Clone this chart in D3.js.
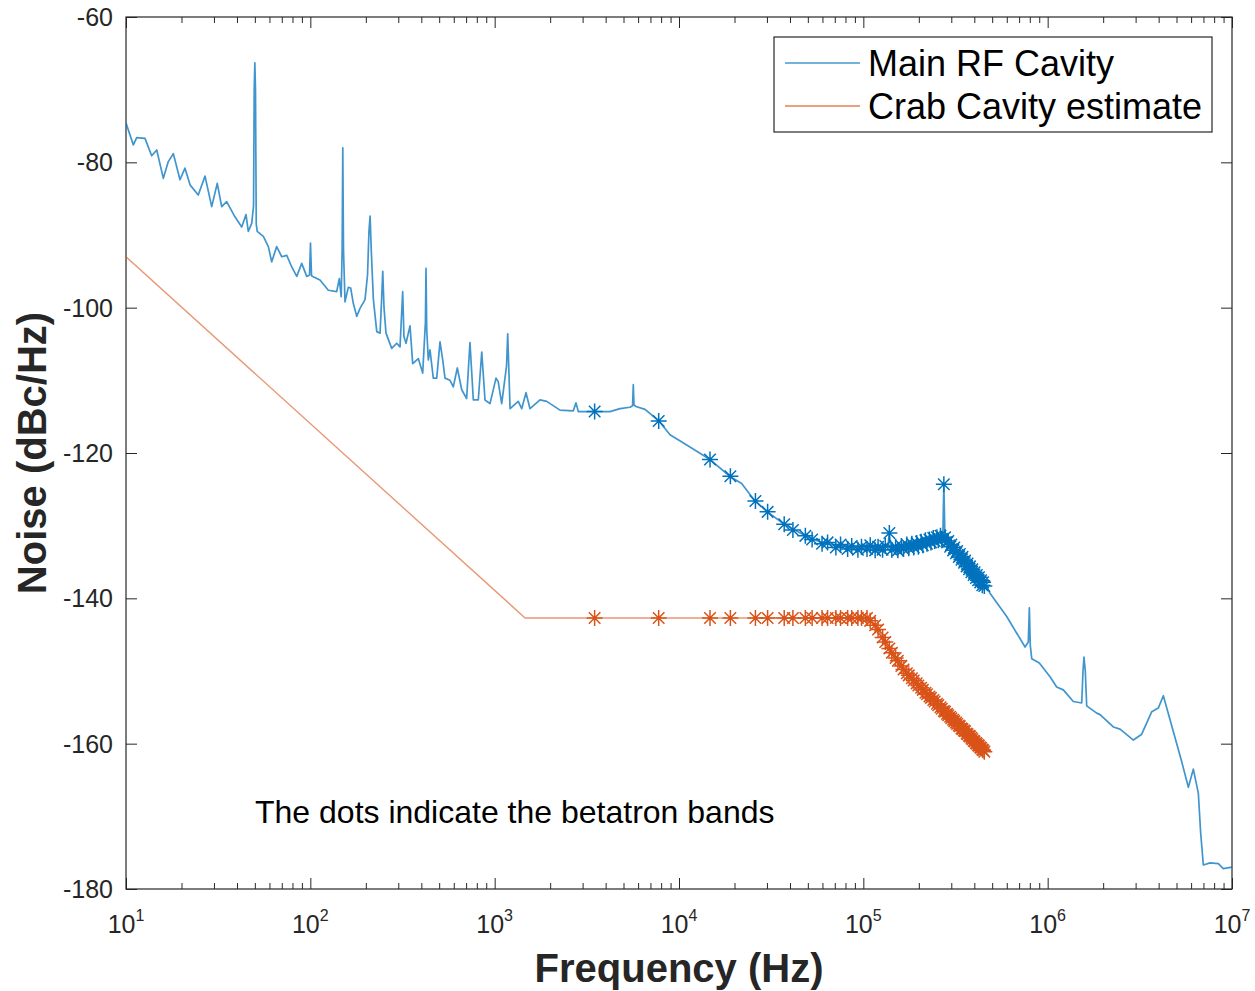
<!DOCTYPE html>
<html>
<head>
<meta charset="utf-8">
<script src="https://cdn.jsdelivr.net/npm/d3@7"></script>
<style>
  body { margin: 0; background: #fff; }
  text { font-family: "Liberation Sans", Arial, Helvetica, sans-serif; fill: #262626; }
</style>
</head>
<body>
<svg id="chart" width="1255" height="991"></svg>
<script>
// Measured phase-noise spectrum of the main RF cavity: [frequency Hz, dBc/Hz]
const mainRF = [
  [10,-74.6],[10.96,-77.6],[11.43,-76.6],[12.68,-76.7],[13.78,-79.1],[14.68,-78.3],[15.94,-82.2],
  [16.96,-79.9],[18.06,-78.8],[19.63,-82.4],[20.89,-80.8],[22.25,-83.1],[24.66,-84.5],[26.83,-81.9],
  [29.17,-86.1],[31.27,-82.9],[33.04,-86.1],[35.16,-85.4],[38.99,-87.5],[42.44,-88.9],[44.77,-87.2],
  [46.08,-89.5],[48.08,-88.4],[49.2,-86],[49.6,-70],[50.0,-66.3],[50.4,-70],[50.9,-88.5],[51.5,-89.5],
  [55.6,-90.2],[59.2,-91.6],[61.7,-93.7],[65.7,-91.6],[70.0,-93.0],[74.5,-92.8],[79.3,-94.4],
  [84.4,-95.7],[89.8,-93.9],[95.6,-95.7],[99.0,-95.5],[100.2,-91.1],[101.5,-95.6],[103,-95.7],
  [112.8,-96.2],[125.2,-97.6],[139,-97.8],[143.6,-96.0],[147,-98.5],[148.8,-92],[150,-78.0],
  [151.3,-92],[154.2,-99.2],[160.7,-97.2],[165.6,-97.3],[171,-99.4],[178.5,-101.2],[186,-100.1],
  [198,-98.9],[204.3,-95.5],[208,-89.5],[211,-87.4],[214,-92],[219.8,-98.9],[229.3,-103.3],
  [238.9,-103.5],[243.5,-99],[247.1,-95.0],[251,-100],[257.3,-103.5],[276.3,-105.6],[294.2,-104.9],
  [306.6,-105.4],[317,-97.8],[322,-104],[330.4,-104.9],[347.3,-102.5],[359.2,-107.7],[385.2,-107.0],
  [407,-109.0],[421,-102],[424.1,-94.6],[428,-103],[436.5,-107.2],[445.8,-105.8],[464.6,-109.7],
  [484.9,-109.7],[505.3,-104.7],[522.5,-107.2],[537.8,-109.7],[572.4,-110.0],[596.5,-110.9],
  [627.1,-108.3],[662.6,-111.3],[704.7,-112.5],[734.5,-104.8],[766,-112.7],[815,-112.7],[851,-106.1],
  [886.5,-112.7],[943.4,-113.2],[1017,-109.7],[1046,-110.2],[1092,-113.2],[1160,-108],[1177,-103.6],
  [1195,-109],[1212,-113.9],[1343,-112.9],[1402,-113.9],[1479,-111.7],[1555,-113.9],[1762,-112.7],
  [1915,-112.9],[2262,-114.1],[2671,-114.2],[2761,-113.1],[2843,-114.3],[3459,-114.3],[4224,-114.3],
  [4786,-113.9],[5421,-113.7],[5600,-113.5],[5650,-110.6],[5700,-113.4],[5843,-113.6],[6540,-114.0],
  [7790,-115.6],[8935,-117.5],[11010,-118.9],[14730,-120.9],[19090,-123.3],[21880,-124.2],
  [25620,-126.5],[30130,-128.1],[36800,-129.7],[41690,-130.5],[49320,-131.5],[60700,-132.4],
  [75000,-132.8],[95940,-132.9],[120000,-133.0],[136000,-132.9],[138400,-131.0],[140500,-133.0],
  [160000,-133.0],[180000,-132.8],[200000,-132.6],[230000,-132.3],[255000,-131.9],[270000,-131.6],
  [272500,-126],[273400,-124.3],[274300,-126],[277000,-131.6],[283000,-132.0],[330000,-134.0],
  [400000,-136.5],[446000,-137.9],[466700,-138.4],[486500,-139.3],[599500,-142.5],[754000,-146.7],
  [785000,-146],[795500,-141.3],[805000,-146.5],[819600,-148.3],[900800,-148.9],[1030000,-150.8],
  [1119000,-152.2],[1216000,-152.6],[1377000,-154.2],[1530000,-154.4],[1555000,-150],[1574000,-148.1],
  [1600000,-150],[1628000,-154.8],[1846000,-155.8],[1924000,-156.0],[2271000,-157.7],[2470000,-158.0],
  [2917000,-159.5],[3238000,-158.7],[3670000,-155.6],[3982000,-155.1],[4242000,-153.4],[4612000,-156.7],
  [5337000,-162.5],[5797000,-166.0],[6169000,-163.5],[6566000,-166.8],[6762000,-172.3],[6990000,-176.7],
  [7600000,-176.4],[8430000,-176.5],[8970000,-177.2],[10000000,-177.0]
];

// Estimated crab-cavity noise floor: [frequency Hz, dBc/Hz]
const crabCavity = [
  [10,-93.0],[1462,-142.7],[104700,-142.7],[114800,-143.5],[125900,-145.2],[141300,-147.3],
  [173800,-150.4],[213800,-152.8],[263000,-155.0],[323600,-157.3],[398100,-159.6],[457100,-161.2]
];

// Betatron sideband frequencies (kHz)
const betatronKHz = [
  3.486,7.759,14.73,19.00,25.98,30.25,37.22,41.49,48.47,52.74,59.71,63.98,70.96,75.23,82.20,86.47,
  93.45,97.72,104.7,109.0,115.9,120.2,127.2,131.5,138.4,142.7,149.7,153.9,160.9,165.2,172.2,176.4,
  183.4,187.7,194.7,198.9,205.9,210.2,217.1,221.4,228.4,232.7,239.6,243.9,250.9,255.1,262.1,266.4,
  273.4,277.6,284.6,288.9,295.9,300.1,307.1,311.4,318.3,322.6,329.6,333.9,340.8,345.1,352.1,356.4,
  363.3,367.6,374.6,378.8,385.8,390.1,397.1,401.3,408.3,412.6,419.6,423.8,430.8,435.1,442.0,446.3,
  453.3
];

// Main RF cavity noise at each betatron band (dBc/Hz)
const mainBetatronDb = [
  -114.3,-115.6,-120.9,-123.2,-126.6,-128.1,-129.8,-130.6,-131.4,-131.9,-132.5,-132.3,-133.0,-132.6,
  -133.2,-132.8,-133.3,-132.9,-133.2,-132.7,-133.4,-132.9,-133.3,-132.8,-131.0,-133.3,-132.9,-133.4,
  -132.8,-133.2,-132.6,-133.1,-132.5,-133.0,-132.4,-132.9,-132.2,-132.7,-132.0,-132.5,-131.9,-132.3,
  -131.7,-132.1,-131.6,-132.0,-131.4,-131.8,-124.3,-131.6,-132.3,-132.1,-132.9,-132.6,-133.4,-133.0,
  -133.8,-133.5,-134.3,-133.9,-134.7,-134.3,-135.1,-134.8,-135.6,-135.2,-136.0,-135.6,-136.4,-136.0,
  -136.8,-136.4,-137.2,-136.8,-137.5,-137.1,-137.8,-137.5,-138.2,-137.8,-138.3
];

// Crab cavity estimate at each betatron band (dBc/Hz)
const crabBetatronDb = [
  -142.7,-142.7,-142.7,-142.7,-142.7,-142.7,-142.7,-142.7,-142.7,-142.7,-142.7,-142.7,-142.7,-142.7,
  -142.7,-142.7,-142.7,-142.7,-142.7,-143.1,-143.7,-144.3,-145.4,-146.0,-146.9,-147.5,-148.2,-148.6,
  -149.3,-149.8,-150.3,-150.6,-151.0,-151.3,-151.7,-152.0,-152.3,-152.6,-153.0,-153.2,-153.5,-153.7,
  -154.0,-154.2,-154.5,-154.7,-155.0,-155.2,-155.5,-155.6,-155.9,-156.1,-156.3,-156.5,-156.7,-156.9,
  -157.1,-157.3,-157.5,-157.6,-157.9,-158.0,-158.2,-158.3,-158.6,-158.7,-158.9,-159.0,-159.2,-159.4,
  -159.6,-159.7,-159.9,-160.0,-160.2,-160.3,-160.5,-160.6,-160.8,-160.9,-161.1
];

const yTicks = [-180, -160, -140, -120, -100, -80, -60];
const xDecadeExponents = [1, 2, 3, 4, 5, 6, 7];
const seriesNames = ["Main RF Cavity", "Crab Cavity estimate"];
const noteText = "The dots indicate the betatron bands";

const colorBlue = "#0072BD", colorOrange = "#D95319";

const svg = d3.select("#chart");
const plotLeft = 126, plotRight = 1232, plotTop = 17, plotBottom = 889;

const x = d3.scaleLog().domain([1e1, 1e7]).range([plotLeft, plotRight]);
const y = d3.scaleLinear().domain([-180, -60]).range([plotBottom, plotTop]);

const decades = xDecadeExponents.map(e => Math.pow(10, e));
const minors = [];
for (let e = 1; e < 7; e++) for (let m = 2; m <= 9; m++) minors.push(m * Math.pow(10, e));

svg.append("defs").append("clipPath").attr("id", "plotClip")
  .append("rect").attr("x", plotLeft).attr("y", plotTop)
  .attr("width", plotRight - plotLeft).attr("height", plotBottom - plotTop);

// Axes box with inward ticks on all four sides
function styleAxis(g) {
  g.selectAll(".domain").remove();
  g.selectAll(".tick line").attr("stroke", "#262626").attr("stroke-width", 1);
  g.selectAll(".tick text").remove();
}
svg.append("g").attr("transform", `translate(0,${plotBottom})`)
  .call(d3.axisBottom(x).tickValues(decades).tickSize(-11)).call(styleAxis);
svg.append("g").attr("transform", `translate(0,${plotBottom})`)
  .call(d3.axisBottom(x).tickValues(minors).tickSize(-6)).call(styleAxis);
svg.append("g").attr("transform", `translate(0,${plotTop})`)
  .call(d3.axisTop(x).tickValues(decades).tickSize(-11)).call(styleAxis);
svg.append("g").attr("transform", `translate(0,${plotTop})`)
  .call(d3.axisTop(x).tickValues(minors).tickSize(-6)).call(styleAxis);
svg.append("g").attr("transform", `translate(${plotLeft},0)`)
  .call(d3.axisLeft(y).tickValues(yTicks).tickSize(-11)).call(styleAxis);
svg.append("g").attr("transform", `translate(${plotRight},0)`)
  .call(d3.axisRight(y).tickValues(yTicks).tickSize(-11)).call(styleAxis);

svg.append("rect").attr("x", plotLeft).attr("y", plotTop)
  .attr("width", plotRight - plotLeft).attr("height", plotBottom - plotTop)
  .attr("fill", "none").attr("stroke", "#262626").attr("stroke-width", 1.2);

// Tick labels
svg.append("g").selectAll("text").data(yTicks).join("text")
  .attr("x", plotLeft - 13).attr("y", d => y(d)).attr("dy", "0.36em")
  .attr("text-anchor", "end").attr("font-size", 25).text(d => d);

const xl = svg.append("g").selectAll("text").data(xDecadeExponents).join("text")
  .attr("x", d => x(Math.pow(10, d))).attr("y", 933).attr("text-anchor", "middle").attr("font-size", 25);
xl.append("tspan").text("10");
xl.append("tspan").attr("dy", -12).attr("font-size", 16).text(d => d);

// Axis titles
svg.append("text").attr("x", (plotLeft + plotRight) / 2).attr("y", 982).attr("text-anchor", "middle")
  .attr("font-size", 40).attr("font-weight", "bold").text("Frequency (Hz)");
svg.append("text").attr("transform", `translate(46,${(plotTop + plotBottom) / 2}) rotate(-90)`)
  .attr("text-anchor", "middle").attr("font-size", 40).attr("font-weight", "bold").text("Noise (dBc/Hz)");

// Curves
const line = d3.line().x(d => x(d[0])).y(d => y(d[1]));
const plot = svg.append("g").attr("clip-path", "url(#plotClip)");

plot.append("path").datum(crabCavity).attr("d", line).attr("fill", "none")
  .attr("stroke", colorOrange).attr("stroke-opacity", 0.6).attr("stroke-width", 1.4);
plot.append("path").datum(mainRF).attr("d", line).attr("fill", "none")
  .attr("stroke", colorBlue).attr("stroke-opacity", 0.75).attr("stroke-width", 1.7)
  .attr("stroke-linejoin", "round");

// Asterisk markers at betatron bands
function asterisk(r) {
  const a = r * 0.72;
  return `M${-r},0H${r}M0,${-r}V${r}M${-a},${-a}L${a},${a}M${-a},${a}L${a},${-a}`;
}
const starPath = asterisk(8);

plot.append("g").selectAll("path").data(betatronKHz).join("path")
  .attr("d", starPath)
  .attr("transform", (d, i) => `translate(${x(d * 1000)},${y(mainBetatronDb[i])})`)
  .attr("fill", "none").attr("stroke", colorBlue).attr("stroke-width", 1.5);

plot.append("g").selectAll("path").data(betatronKHz).join("path")
  .attr("d", starPath)
  .attr("transform", (d, i) => `translate(${x(d * 1000)},${y(crabBetatronDb[i])})`)
  .attr("fill", "none").attr("stroke", colorOrange).attr("stroke-width", 1.5);

// Annotation
svg.append("text").attr("x", 255).attr("y", 823).attr("font-size", 32).style("fill", "#000").text(noteText);

// Legend
const lg = svg.append("g");
lg.append("rect").attr("x", 774).attr("y", 37).attr("width", 438).attr("height", 95)
  .attr("fill", "#fff").attr("stroke", "#262626").attr("stroke-width", 1.2);
const legendColors = [colorBlue, colorOrange];
seriesNames.forEach((name, i) => {
  const cy = 63 + i * 43;
  lg.append("line").attr("x1", 785).attr("x2", 860).attr("y1", cy).attr("y2", cy)
    .attr("stroke", legendColors[i]).attr("stroke-opacity", 0.55).attr("stroke-width", 1.8);
  lg.append("text").attr("x", 868).attr("y", cy).attr("dy", "0.36em").attr("font-size", 36)
    .style("fill", "#000").text(name);
});
</script>
</body>
</html>
